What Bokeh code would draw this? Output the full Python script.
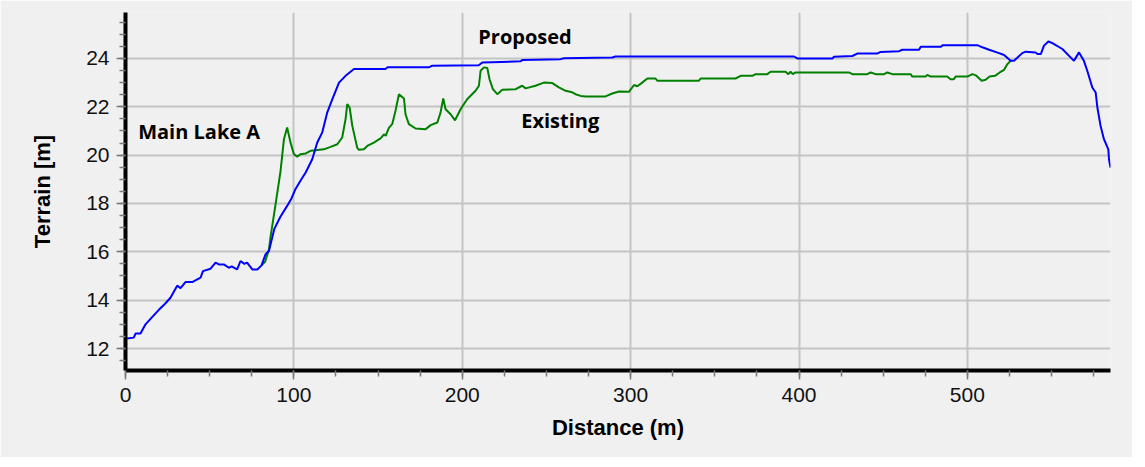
from bokeh.plotting import figure
from bokeh.models import Range1d, Label, SingleIntervalTicker
from bokeh.embed import file_html
from bokeh.resources import INLINE

# ---- data ----
proposed_x = [1, 4.9, 6, 8.9, 11.9, 15.8, 19.8, 23.5, 26.7, 30.7, 32.7, 35.6, 39.6, 44.6, 46, 50.5,
              53.5, 55.5, 58.4, 61.4, 63, 66.3, 68.3, 70.6, 72.2, 75.3, 78.3, 80.8, 83.2, 85.2, 88.4,
              92, 96, 98.5, 101, 104, 107, 110.9, 113.9, 116.8, 119.8, 122.8, 126.8, 130.7, 135.7,
              154.4, 155.5, 180.2, 182.2, 209.8, 211.9, 234.6, 235.6, 258.4, 260.4, 289.1, 291, 397,
              399, 419.8, 420.8, 431.7, 434.6, 446.4, 448.4, 459.4, 461.4, 471.3, 472.3, 484.1, 485.5,
              505.9, 508.9, 512.9, 518.8, 521.8, 525.7, 527.7, 532.6, 534.6, 540.5, 541.6, 543.6,
              545.5, 548.1, 550.5, 556.4, 563.3, 566.3, 569.2, 571.2, 574.2, 576.2, 577.2, 579.1,
              581.1, 583.7, 584.1, 585]
proposed_y = [12.41, 12.45, 12.62, 12.62, 13.0, 13.3, 13.6, 13.85, 14.1, 14.6, 14.5, 14.75, 14.75,
              14.93, 15.2, 15.3, 15.55, 15.48, 15.48, 15.34, 15.4, 15.27, 15.62, 15.5, 15.55, 15.27,
              15.27, 15.44, 15.9, 16.03, 16.95, 17.45, 17.9, 18.2, 18.6, 18.95, 19.28, 19.83, 20.52,
              20.93, 21.76, 22.31, 23.0, 23.28, 23.56, 23.56, 23.63, 23.63, 23.7, 23.72, 23.83,
              23.88, 23.93, 23.97, 24.01, 24.04, 24.08, 24.08, 24.0, 24.0, 24.07, 24.1, 24.2, 24.2,
              24.27, 24.3, 24.36, 24.36, 24.48, 24.48, 24.55, 24.55, 24.46, 24.36, 24.22, 24.14,
              23.9, 23.9, 24.22, 24.28, 24.25, 24.18, 24.18, 24.53, 24.7, 24.63, 24.39, 23.9, 24.25,
              23.9, 23.49, 22.8, 22.59, 21.97, 21.21, 20.66, 20.24, 19.83, 19.48]

existing_x = [80.8, 83, 85.2, 86.1, 89.1, 92.1, 94.1, 96, 98, 100, 102, 104, 107, 109.9, 112.9,
              117.8, 121.8, 125.8, 128.7, 130.7, 131.7, 133.1, 134.7, 137.6, 138.6, 141.6, 143.6,
              147.5, 151.5, 153.5, 154.5, 156.5, 158.4, 160.4, 162.4, 165.4, 166.3, 168.3, 172.3,
              178.2, 181.2, 185.2, 187.1, 188.7, 190.1, 193.1, 195.7, 199, 202.9, 207.9, 209.9,
              210.9, 212.9, 214.9, 216.2, 218.2, 220.8, 223.8, 231.7, 235.6, 237.6, 243.5, 248.5,
              253.5, 257.4, 261.4, 265.3, 267.3, 270.3, 273.3, 285.1, 289.1, 293.1, 299, 302, 304,
              306.9, 309.9, 314.8, 315.8, 340.6, 341.6, 362.3, 365.3, 372.3, 374.2, 381.2, 383.1,
              392, 393.7, 395, 396.3, 398, 429.6, 431.7, 440.6, 442.6, 445.5, 450.5, 452.5, 455.4,
              466.3, 467.3, 475.2, 476.2, 478.2, 488, 490, 492, 493, 500, 503, 505, 508.5, 510.8,
              513.2, 516.4, 519.2, 521.8, 523.7, 525.7]
existing_y = [15.44, 15.6, 16.1, 16.6, 17.95, 19.35, 20.66, 21.14, 20.52, 20.04, 19.94, 20.04, 20.07,
              20.18, 20.2, 20.24, 20.34, 20.45, 20.73, 21.49, 22.11, 21.97, 21.21, 20.31, 20.22,
              20.24, 20.38, 20.52, 20.69, 20.86, 20.8, 21.14, 21.28, 21.85, 22.52, 22.34, 21.69,
              21.28, 21.1, 21.07, 21.24, 21.35, 21.76, 22.34, 21.9, 21.69, 21.44, 21.9, 22.31, 22.66,
              22.87, 23.49, 23.63, 23.6, 23.14, 22.73, 22.52, 22.7, 22.73, 22.87, 22.76, 22.87, 23.0,
              22.98, 22.8, 22.66, 22.6, 22.52, 22.45, 22.43, 22.43, 22.55, 22.63, 22.62, 22.9, 22.85,
              23.0, 23.17, 23.17, 23.08, 23.08, 23.17, 23.17, 23.28, 23.28, 23.35, 23.35, 23.45,
              23.45, 23.35, 23.45, 23.35, 23.42, 23.42, 23.35, 23.35, 23.42, 23.35, 23.35, 23.42,
              23.35, 23.35, 23.25, 23.25, 23.32, 23.25, 23.25, 23.14, 23.14, 23.25, 23.25, 23.35,
              23.3, 23.08, 23.12, 23.25, 23.28, 23.42, 23.53, 23.76, 23.9]

labels = ["Proposed", "Existing", "Main Lake A"]
label_x = [209.5, 235, 7.5]
label_y = [24.92, 21.42, 20.98]

x_title = "Distance (m)"
y_title = "Terrain [m]"

BG = "#f0f0f0"

p = figure(frame_width=985, frame_height=358,
           x_range=Range1d(0, 585), y_range=Range1d(11.09, 25.9),
           output_backend="svg", toolbar_location=None,
           min_border_left=125, min_border_right=22, min_border_top=12, min_border_bottom=87,
           background_fill_color=BG, border_fill_color=BG, outline_line_color=None)

p.xaxis.ticker = SingleIntervalTicker(interval=100, num_minor_ticks=4)
p.yaxis.ticker = SingleIntervalTicker(interval=2, num_minor_ticks=4)

for g in (p.xgrid, p.ygrid):
    g.grid_line_color = "#c4c4c4"
    g.grid_line_width = 2

for ax in (p.xaxis, p.yaxis):
    ax.axis_line_width = 4
    ax.axis_line_color = "black"
    ax.major_tick_in = 0
    ax.major_tick_out = 9
    ax.minor_tick_in = 0
    ax.minor_tick_out = 6
    ax.major_tick_line_color = "#7a7a7a"
    ax.minor_tick_line_color = "#7a7a7a"
    ax.major_tick_line_width = 1.5
    ax.minor_tick_line_width = 1.5
    ax.major_label_text_font = "Liberation Sans"
    ax.major_label_text_font_size = "21px"
    ax.major_label_text_color = "#111111"
    ax.axis_label_text_font = "Liberation Sans"
    ax.axis_label_text_font_style = "bold"
    ax.axis_label_text_font_size = "22px"
    ax.axis_label_text_color = "black"

p.xaxis.axis_label = x_title
p.yaxis.axis_label = y_title
p.xaxis.major_label_standoff = 8
p.yaxis.major_label_standoff = 7
p.xaxis.axis_label_standoff = 10
p.yaxis.axis_label_standoff = 28

p.line(existing_x, existing_y, line_color="#008000", line_width=2)
p.line(proposed_x, proposed_y, line_color="#0000ff", line_width=2)

for t, lx, ly in zip(labels, label_x, label_y):
    p.add_layout(Label(x=lx, y=ly, text=t, text_font="Open Sans", text_font_style="bold",
                       text_font_size="20px", text_color="black", text_baseline="alphabetic",
                       text_align="left"))

open("out.html", "w").write(file_html(p, INLINE))
